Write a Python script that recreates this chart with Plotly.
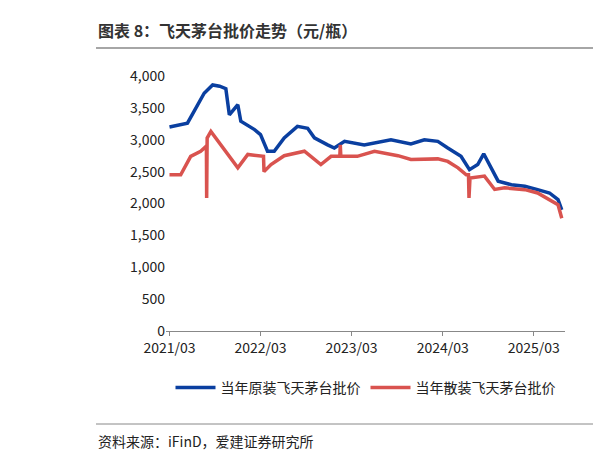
import plotly.graph_objects as go

blue_dates = ["2021-03-01","2021-05-12","2021-06-08","2021-07-18","2021-08-21","2021-09-18","2021-10-13","2021-10-27",
 "2021-11-30","2021-12-12","2022-02-05","2022-03-01","2022-03-29","2022-04-25","2022-06-04","2022-07-27","2022-09-06",
 "2022-10-03","2022-11-25","2022-12-22","2023-02-01","2023-04-21","2023-08-06","2023-10-25","2023-12-18","2024-02-10",
 "2024-03-21","2024-05-13","2024-06-16","2024-07-19","2024-08-12","2024-09-12","2024-10-09","2024-12-01","2025-01-24",
 "2025-03-16","2025-05-03","2025-06-06","2025-06-21"]
blue_vals = [3200,3260,3450,3730,3860,3840,3800,3390,3550,3290,3160,3080,2820,2820,3030,3210,3180,3030,2920,2870,2975,2920,
 3000,2935,3000,2975,2870,2740,2530,2610,2780,2560,2350,2295,2270,2217,2165,2060,1900]

red_dates = ["2021-03-01","2021-04-15","2021-05-25","2021-07-04","2021-07-27","2021-07-28","2021-07-30","2021-08-14",
 "2021-09-23","2021-11-30","2022-01-09","2022-03-13","2022-03-15","2022-04-12","2022-06-04","2022-08-24","2022-10-29",
 "2022-12-09","2023-01-13","2023-01-15","2023-01-17","2023-03-24","2023-06-01","2023-09-03","2023-10-25","2024-02-10",
 "2024-03-21","2024-05-01","2024-06-03","2024-06-12","2024-06-14","2024-06-18","2024-08-15","2024-09-25","2024-11-04",
 "2025-01-24","2025-03-16","2025-05-03","2025-06-06","2025-06-21"]
red_vals = [2450,2450,2740,2820,2900,2086,3027,3130,2920,2560,2770,2740,2500,2610,2750,2820,2610,2740,2740,2920,2740,2740,
 2820,2750,2690,2700,2660,2560,2450,2450,2086,2400,2430,2220,2245,2217,2165,2060,1980,1770]

tick_vals = ["2021-03-01","2022-03-01","2023-03-01","2024-03-01","2025-03-01"]
tick_text = ["2021/03","2022/03","2023/03","2024/03","2025/03"]

fig = go.Figure()
fig.add_trace(go.Scatter(x=blue_dates, y=blue_vals, mode="lines", name="当年原装飞天茅台批价",
                         line=dict(color="#0A3FA0", width=3.5)))
fig.add_trace(go.Scatter(x=red_dates, y=red_vals, mode="lines", name="当年散装飞天茅台批价",
                         line=dict(color="#D9534F", width=3.5)))

f = "Noto Sans CJK SC"
fig.update_layout(
    width=613, height=455, plot_bgcolor="white", paper_bgcolor="white",
    margin=dict(l=158, r=56, t=68, b=132, autoexpand=False),
    font=dict(family=f, size=14, color="#222"),
    showlegend=True,
    legend=dict(orientation="h", x=0.5, xanchor="center", y=-0.16, yanchor="top",
                font=dict(size=14), itemwidth=40, traceorder="normal"),
    xaxis=dict(range=["2021-02-15","2025-07-04"], tickvals=tick_vals, ticktext=tick_text,
               showgrid=False, showline=True, linecolor="#888", linewidth=1,
               ticks="outside", ticklen=4, tickcolor="#888", tickfont=dict(size=14, family=f)),
    yaxis=dict(range=[0,4000], tickvals=list(range(0,4001,500)), tickformat=",",
               showgrid=False, showline=False, zeroline=False, tickfont=dict(size=14, family=f)),
    annotations=[
        dict(text="<b>图表 8：飞天茅台批价走势（元/瓶）</b>", xref="paper", yref="paper",
             x=(88-158)/399, y=(323-22)/255, xanchor="left", yanchor="middle", showarrow=False,
             font=dict(size=16, color="#333", family=f)),
        dict(text="资料来源：iFinD，爱建证券研究所", xref="paper", yref="paper",
             x=(88-158)/399, y=(323-433)/255, xanchor="left", yanchor="middle", showarrow=False,
             font=dict(size=14, color="#222", family=f)),
    ],
    shapes=[
        dict(type="line", xref="paper", yref="paper", x0=(88-158)/399, x1=(585-158)/399,
             y0=(323-40)/255, y1=(323-40)/255, line=dict(color="#888", width=1.5)),
        dict(type="line", xref="paper", yref="paper", x0=(88-158)/399, x1=(585-158)/399,
             y0=(323-416)/255, y1=(323-416)/255, line=dict(color="#888", width=1)),
    ],
)
fig.write_html("out.html")
